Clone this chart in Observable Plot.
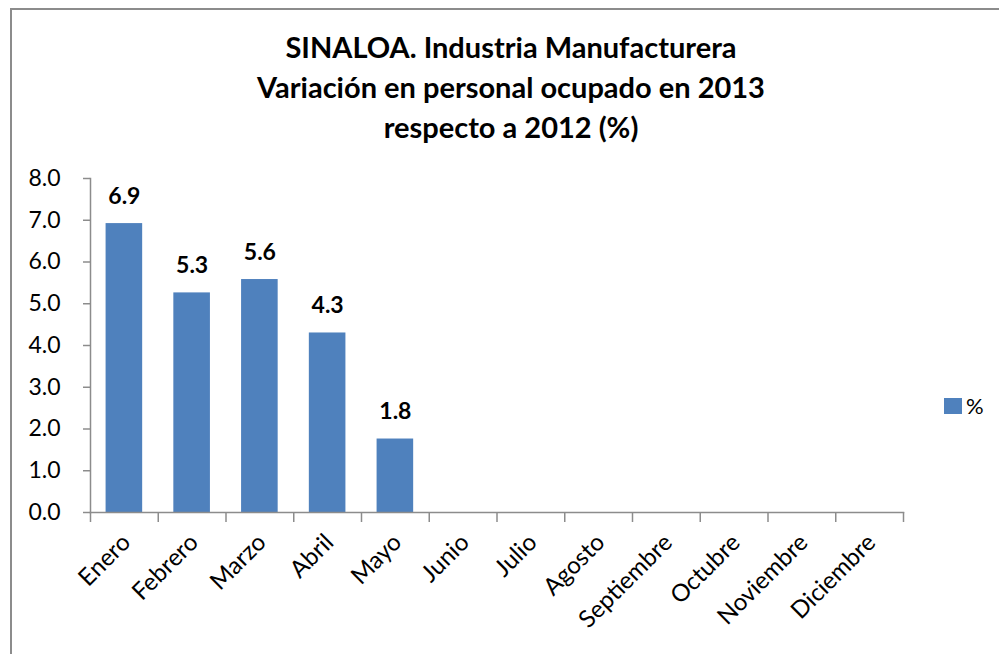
<!DOCTYPE html>
<html>
<head>
<meta charset="utf-8">
<script src="https://cdn.jsdelivr.net/npm/d3@7"></script>
<script src="https://cdn.jsdelivr.net/npm/@observablehq/plot@0.6"></script>
<style>
  html, body { margin: 0; padding: 0; background: #fff; overflow: hidden; }
  #page { position: relative; width: 999px; height: 654px; font-family: Lato, "Open Sans", sans-serif; }
  #frame { position: absolute; left: 10px; top: 8px; width: 1000px; height: 660px;
           border-top: 2px solid #8c8c8c; border-left: 2px solid #8c8c8c; }
  #title { position: absolute; left: 0; top: 27px; width: 1022px; text-align: center;
           font-weight: bold; font-size: 29px; line-height: 40px; color: #000; }
  #chart { position: absolute; left: 0; top: 150px; }
  #legend { position: absolute; left: 944px; top: 392px; display: flex; align-items: center;
            font-size: 22px; color: #000; }
  #legend .sw { width: 18px; height: 16px; background: #4F81BD; margin-right: 4px; }
</style>
</head>
<body>
<div id="page">
  <div id="frame"></div>
  <div id="title"></div>
  <div id="chart"></div>
  <div id="legend"></div>
</div>
<script>
const titleLines = ["SINALOA. Industria Manufacturera", "Variación en personal ocupado en 2013", "respecto a 2012 (%)"];
const months = ["Enero","Febrero","Marzo","Abril","Mayo","Junio","Julio","Agosto","Septiembre","Octubre","Noviembre","Diciembre"];
const monthsWithData = ["Enero","Febrero","Marzo","Abril","Mayo"];
const values = [6.92, 5.26, 5.58, 4.30, 1.76];
const yTicks = [0,1,2,3,4,5,6,7,8];
const seriesName = "%";

const barColor = "#4F81BD";
const axisColor = "#8c8c8c";

document.getElementById("title").innerHTML = titleLines.map(t => `<div>${t}</div>`).join("");
document.getElementById("legend").innerHTML = `<div class="sw"></div><div>${seriesName}</div>`;

const data = monthsWithData.map((m, i) => ({month: m, value: values[i]}));

const W = 999, H = 504;
const mL = 90, mR = 96, mT = 28, mB = 142;
const halfStep = (W - mL - mR) / months.length / 2;

const chart = Plot.plot({
  width: W,
  height: H,
  marginLeft: mL,
  marginRight: mR,
  marginTop: mT,
  marginBottom: mB,
  style: {fontFamily: "Lato, 'Open Sans', sans-serif", color: "#000", background: "transparent"},
  x: {domain: months, paddingInner: 0.46, paddingOuter: 0.23, round: false, label: null},
  y: {domain: [0, 8], ticks: yTicks, label: null},
  marks: [
    Plot.barY(data, {x: "month", y: "value", fill: barColor}),
    Plot.frame({anchor: "left", stroke: axisColor, strokeWidth: 1.5}),
    Plot.frame({anchor: "bottom", stroke: axisColor, strokeWidth: 1.5}),
    Plot.ruleX(months, {x: d => d, dx: -halfStep, y1: 0, y2: 0, insetBottom: -10, stroke: axisColor, strokeWidth: 1.5}),
    Plot.ruleX([months[months.length - 1]], {x: d => d, dx: halfStep, y1: 0, y2: 0, insetBottom: -10, stroke: axisColor, strokeWidth: 1.5}),
    Plot.axisY({ticks: yTicks, tickFormat: d3.format(".1f"), tickSize: 7, tickPadding: 23, fontSize: 23, stroke: axisColor, strokeWidth: 1.5, label: null}),
    Plot.axisX({tickSize: 0, tickRotate: -45, tickPadding: 26, dx: 2, fontSize: 24, label: null}),
    Plot.text(data, {x: "month", y: "value", text: d => d3.format(".1f")(d.value), dy: -27, fontSize: 23, fontWeight: "bold"})
  ]
});
document.getElementById("chart").appendChild(chart);
</script>
</body>
</html>
